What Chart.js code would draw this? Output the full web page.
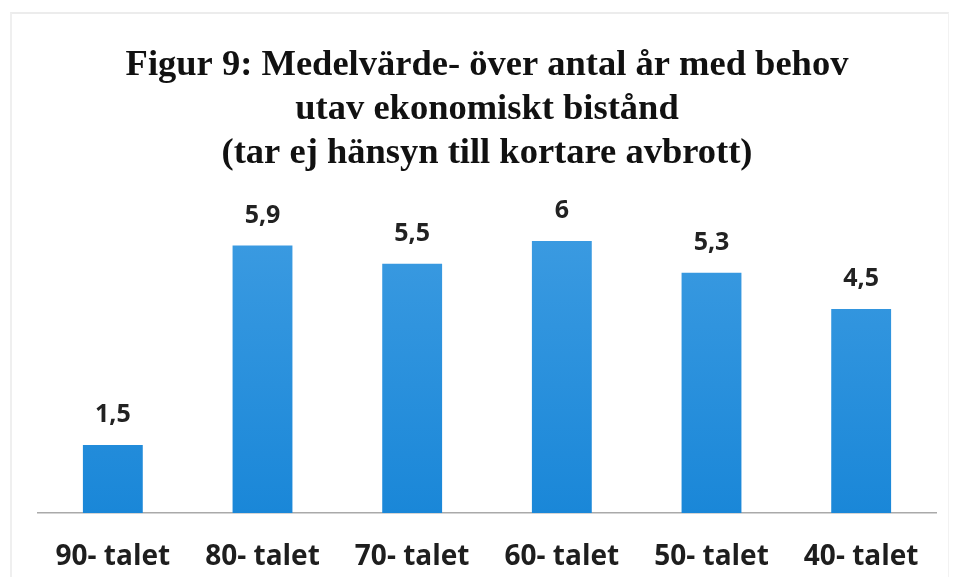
<!DOCTYPE html>
<html lang="sv">
<head>
<meta charset="utf-8">
<title>Figur 9</title>
<script src="https://cdn.jsdelivr.net/npm/chart.js@4.4.1/dist/chart.umd.min.js"></script>
<style>
    html, body { margin: 0; padding: 0; background: #fff; }
    #wrap { position: relative; width: 953px; height: 577px; }
    #frame {
        position: absolute; left: 10px; top: 12px; width: 936px; height: 570px;
        border-top: 2px solid #ececec; border-left: 2px solid #efefef; border-right: 1px solid #f2f2f2;
    }
    #chart { position: absolute; left: 0; top: 0; }
</style>
</head>
<body>
<div id="wrap">
    <div id="frame"></div>
    <canvas id="chart" width="953" height="577"></canvas>
</div>
<script>
// Data
const categories = ['90- talet', '80- talet', '70- talet', '60- talet', '50- talet', '40- talet'];
const values = [1.5, 5.9, 5.5, 6, 5.3, 4.5];
const titleLines = [
    'Figur 9: Medelvärde- över antal år med behov',
    'utav ekonomiskt bistånd',
    '(tar ej hänsyn till kortare avbrott)'
];

const labelFont = '"Open Sans", "DejaVu Sans", sans-serif';

// value labels above each bar
const valueLabels = {
    id: 'valueLabels',
    afterDatasetsDraw(chart) {
        const ctx = chart.ctx;
        const meta = chart.getDatasetMeta(0);
        ctx.save();
        ctx.font = 'bold 25px ' + labelFont;
        ctx.fillStyle = '#222';
        ctx.textAlign = 'center';
        ctx.textBaseline = 'alphabetic';
        meta.data.forEach((bar, i) => {
            const txt = values[i].toLocaleString('sv-SE');
            ctx.fillText(txt, bar.x, bar.y - 23);
        });
        ctx.restore();
    }
};

const ctx = document.getElementById('chart').getContext('2d');

function barGradient(context) {
    const area = context.chart.chartArea;
    if (!area) return '#2a8fdc';
    const g = context.chart.ctx.createLinearGradient(0, area.top, 0, area.bottom);
    g.addColorStop(0, '#3f9de2');
    g.addColorStop(1, '#1a87d8');
    return g;
}

new Chart(ctx, {
    type: 'bar',
    data: {
        labels: categories,
        datasets: [{
            data: values,
            backgroundColor: barGradient,
            borderWidth: 0,
            categoryPercentage: 1,
            barPercentage: 0.4
        }]
    },
    options: {
        responsive: false,
        animation: false,
        layout: { padding: { left: 38, right: 17, top: 0, bottom: 5 } },
        plugins: {
            legend: { display: false },
            tooltip: { enabled: false },
            title: {
                display: true,
                text: titleLines,
                color: '#111',
                font: { family: '"Liberation Serif", "Times New Roman", serif', size: 36.5, weight: 'bold', lineHeight: '44px' },
                padding: { top: 44, bottom: 22 }
            }
        },
        scales: {
            y: {
                display: false,
                min: 0,
                max: 6.95
            },
            x: {
                grid: { display: false, drawTicks: false },
                border: { display: true, color: '#aaaaaa', width: 1.5 },
                ticks: {
                    color: '#1e1e1e',
                    padding: 27,
                    font: { family: labelFont, size: 28, weight: 'bold' }
                },
                afterFit(scale) {
                    scale.height = 59;
                }
            }
        }
    },
    plugins: [valueLabels]
});
</script>
</body>
</html>
